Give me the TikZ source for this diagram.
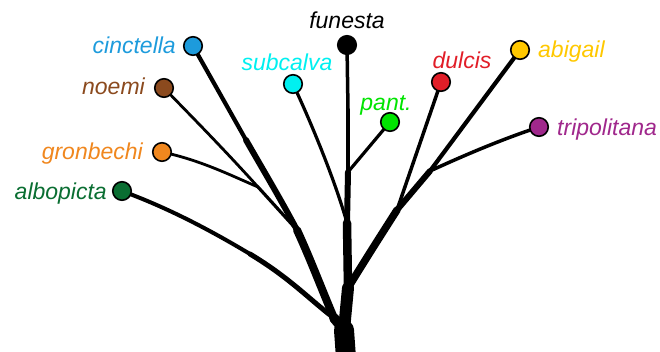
\documentclass[tikz,border=0pt]{standalone}
\usepackage{fontspec}
\setmainfont{Liberation Sans}
\usetikzlibrary{backgrounds}
\definecolor{cCin}{RGB}{29,155,220}
\definecolor{cNoe}{RGB}{139,74,30}
\definecolor{cGro}{RGB}{240,135,30}
\definecolor{cAlb}{RGB}{10,110,50}
\definecolor{cSub}{RGB}{0,240,240}
\definecolor{cPan}{RGB}{0,228,0}
\definecolor{cDul}{RGB}{225,30,40}
\definecolor{cAbi}{RGB}{255,200,0}
\definecolor{cTri}{RGB}{160,40,140}
\begin{document}
\begin{tikzpicture}[x=1pt,y=-1pt,
  leaf/.style={circle,draw=black,line width=1.6pt,minimum size=18.5pt,inner sep=0pt},
  lbl/.style={font=\fontsize{23}{23}\selectfont\itshape,inner sep=0pt},
  br/.style={draw=black,line cap=round,line join=round}]
\useasboundingbox (0,0) rectangle (660,351);
% junctions
\coordinate (root) at (346,358);
\coordinate (L0) at (344,330);
\coordinate (A) at (334,318);
\coordinate (B) at (297,230);
\coordinate (Bm) at (246,140);
\coordinate (C) at (258,187);
\coordinate (T1) at (348,288);
\coordinate (T2) at (347,223);
\coordinate (T3) at (348,172);
\coordinate (Tm) at (348,110);
\coordinate (D) at (397,210);
\coordinate (E) at (430,171);
% leaves
\node[leaf,fill=cCin] (cin) at (193,46) {};
\node[leaf,fill=cNoe] (noe) at (164,88) {};
\node[leaf,fill=cGro] (gro) at (162,152) {};
\node[leaf,fill=cAlb] (alb) at (122,191) {};
\node[leaf,fill=cSub] (sub) at (293,84) {};
\node[leaf,fill=black] (fun) at (347,45) {};
\node[leaf,fill=cPan] (pan) at (390,122) {};
\node[leaf,fill=cDul] (dul) at (441,82) {};
\node[leaf,fill=cAbi] (abi) at (520,50) {};
\node[leaf,fill=cTri] (tri) at (539,127) {};
% labels
\node[lbl,text=cCin,anchor=base east] (lcin) at (176,53) {cinctella};
\node[lbl,text=cNoe,anchor=base east] (lnoe) at (145,94) {noemi};
\node[lbl,text=cGro,anchor=base east] (lgro) at (143,159) {gronbechi};
\node[lbl,text=cAlb,anchor=base east] (lalb) at (107,199) {albopicta};
\node[lbl,text=cSub,anchor=base] (lsub) at (287,70) {subcalva};
\node[lbl,text=black,anchor=base] (lfun) at (347,28) {funesta};
\node[lbl,text=cPan,anchor=base] (lpan) at (386,110) {pant.};
\node[lbl,text=cDul,anchor=base] (ldul) at (462,68) {dulcis};
\node[lbl,text=cAbi,anchor=base west] (labi) at (538,57) {abigail};
\node[lbl,text=cTri,anchor=base west] (ltri) at (557,135) {tripolitana};
% branches
\begin{scope}[on background layer]
\draw[br,line width=20pt] (root) -- (L0);
\draw[br,line width=10pt] (L0) -- (A);
\draw[br,line width=8pt] (A) .. controls (322,290) and (310,258) .. (B);
\draw[br,line width=6pt] (B) .. controls (280,198) and (262,168) .. (Bm);
\draw[br,line width=4.2pt] (Bm) -- (cin.center);
\draw[br,line width=3.2pt] (B) -- (C);
\draw[br,line width=2.8pt] (C) .. controls (220,145) and (190,115) .. (noe.center);
\draw[br,line width=2.8pt] (C) .. controls (230,175) and (200,160) .. (gro.center);
\draw[br,line width=5pt] (A) .. controls (310,300) and (290,278) .. (250,254);
\draw[br,line width=4pt] (250,254) .. controls (200,224) and (160,205) .. (alb.center);
\draw[br,line width=12pt] (L0) -- (T1);
\draw[br,line width=8.5pt] (T1) -- (T2);
\draw[br,line width=6pt] (T2) -- (T3);
\draw[br,line width=4.5pt] (T3) -- (Tm);
\draw[br,line width=3.5pt] (Tm) -- (fun.center);
\draw[br,line width=3.2pt] (T2) .. controls (335,180) and (310,120) .. (sub.center);
\draw[br,line width=3.2pt] (T3) -- (pan.center);
\draw[br,line width=7.5pt] (T1) .. controls (365,260) and (383,232) .. (D);
\draw[br,line width=3.5pt] (D) -- (dul.center);
\draw[br,line width=6pt] (D) -- (E);
\draw[br,line width=4.2pt] (E) -- (abi.center);
\draw[br,line width=3.5pt] (E) .. controls (465,155) and (500,140) .. (tri.center);
\end{scope}
\end{tikzpicture}
\end{document}
